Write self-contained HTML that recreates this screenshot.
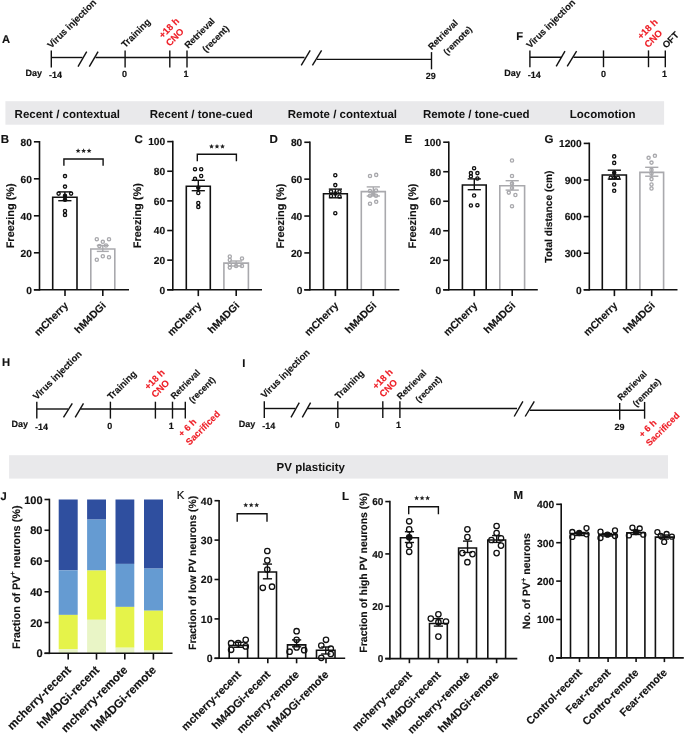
<!DOCTYPE html>
<html><head><meta charset="utf-8"><style>
html,body{margin:0;padding:0;background:#fff;overflow:hidden;width:685px;height:734px;}
svg{display:block;will-change:transform;font-family:"Liberation Sans", sans-serif;text-rendering:geometricPrecision;}
text{stroke:currentColor;stroke-width:0.15px;paint-order:stroke;}
text.h{stroke-width:0;}
</style></head><body>
<svg width="685" height="734" viewBox="0 0 685 734">
<rect width="685" height="734" fill="#fff"/>
<text x="2" y="42.6" font-size="11.2" font-weight="bold" text-anchor="start" fill="#111" color="#111">A</text>
<line x1="51.3" y1="57.5" x2="82.5" y2="57.5" stroke="#111" stroke-width="1.4" stroke-linecap="butt"/>
<line x1="95.5" y1="57.5" x2="304.5" y2="57.5" stroke="#111" stroke-width="1.4" stroke-linecap="butt"/>
<line x1="317" y1="59.4" x2="431.5" y2="59.4" stroke="#111" stroke-width="1.4" stroke-linecap="butt"/>
<line x1="78" y1="66.6" x2="86.7" y2="51.7" stroke="#111" stroke-width="1.4" stroke-linecap="butt"/>
<line x1="89.3" y1="66.6" x2="98.1" y2="51.7" stroke="#111" stroke-width="1.4" stroke-linecap="butt"/>
<line x1="301.2" y1="65.3" x2="310.2" y2="50.4" stroke="#111" stroke-width="1.4" stroke-linecap="butt"/>
<line x1="312.4" y1="65.3" x2="321.6" y2="50.4" stroke="#111" stroke-width="1.4" stroke-linecap="butt"/>
<line x1="51.3" y1="50.5" x2="51.3" y2="67.4" stroke="#111" stroke-width="1.4" stroke-linecap="butt"/>
<line x1="125.1" y1="50.5" x2="125.1" y2="67.4" stroke="#111" stroke-width="1.4" stroke-linecap="butt"/>
<line x1="169.8" y1="50.5" x2="169.8" y2="67.4" stroke="#111" stroke-width="1.4" stroke-linecap="butt"/>
<line x1="187" y1="50.5" x2="187" y2="67.4" stroke="#111" stroke-width="1.4" stroke-linecap="butt"/>
<line x1="431.5" y1="52.1" x2="431.5" y2="69.3" stroke="#111" stroke-width="1.4" stroke-linecap="butt"/>
<text x="25.6" y="76" font-size="9" font-weight="bold" text-anchor="start" fill="#111" color="#111">Day</text>
<text x="49" y="77.8" font-size="9" font-weight="bold" text-anchor="start" fill="#111" color="#111">-14</text>
<text x="124.4" y="77" font-size="9" font-weight="bold" text-anchor="middle" fill="#111" color="#111">0</text>
<text x="186" y="77" font-size="9" font-weight="bold" text-anchor="middle" fill="#111" color="#111">1</text>
<text x="430.8" y="78.8" font-size="9" font-weight="bold" text-anchor="middle" fill="#111" color="#111">29</text>
<text x="51.3" y="48.8" font-size="9.4" font-weight="bold" text-anchor="start" fill="#111" color="#111" transform="rotate(-45 51.3 48.8)">Virus injection</text>
<text x="125.2" y="48.3" font-size="9.4" font-weight="bold" text-anchor="start" fill="#111" color="#111" transform="rotate(-45 125.2 48.3)">Training</text>
<text x="162.7" y="38.8" font-size="9.4" font-weight="bold" text-anchor="start" fill="#ee1c24" color="#ee1c24" transform="rotate(-45 162.7 38.8)">+18 h</text>
<text x="169.7" y="46.8" font-size="9.4" font-weight="bold" text-anchor="start" fill="#ee1c24" color="#ee1c24" transform="rotate(-45 169.7 46.8)">CNO</text>
<text x="188.2" y="48.8" font-size="9.1" font-weight="bold" text-anchor="start" fill="#111" color="#111" transform="rotate(-45 188.2 48.8)">Retrieval</text>
<text x="206" y="52.7" font-size="9.1" font-weight="bold" text-anchor="start" fill="#111" color="#111" transform="rotate(-45 206 52.7)">(recent)</text>
<text x="431.7" y="50.3" font-size="9" font-weight="bold" text-anchor="start" fill="#111" color="#111" transform="rotate(-45 431.7 50.3)">Retrieval</text>
<text x="447.1" y="55.4" font-size="9" font-weight="bold" text-anchor="start" fill="#111" color="#111" transform="rotate(-45 447.1 55.4)">(remote)</text>
<text x="516.2" y="40.3" font-size="11.2" font-weight="bold" text-anchor="start" fill="#111" color="#111">F</text>
<line x1="529.9" y1="57.2" x2="561.8" y2="57.2" stroke="#111" stroke-width="1.4" stroke-linecap="butt"/>
<line x1="573.5" y1="57.2" x2="665.3" y2="57.2" stroke="#111" stroke-width="1.4" stroke-linecap="butt"/>
<line x1="556.2" y1="66.4" x2="565" y2="51.1" stroke="#111" stroke-width="1.4" stroke-linecap="butt"/>
<line x1="567.2" y1="66.4" x2="576.6" y2="51.1" stroke="#111" stroke-width="1.4" stroke-linecap="butt"/>
<line x1="529.9" y1="50.4" x2="529.9" y2="67.2" stroke="#111" stroke-width="1.4" stroke-linecap="butt"/>
<line x1="603.5" y1="50.4" x2="603.5" y2="67.2" stroke="#111" stroke-width="1.4" stroke-linecap="butt"/>
<line x1="648.5" y1="50.4" x2="648.5" y2="67.2" stroke="#111" stroke-width="1.4" stroke-linecap="butt"/>
<line x1="665.3" y1="50.4" x2="665.3" y2="67.2" stroke="#111" stroke-width="1.4" stroke-linecap="butt"/>
<text x="504.2" y="75.6" font-size="9" font-weight="bold" text-anchor="start" fill="#111" color="#111">Day</text>
<text x="527.8" y="77.8" font-size="9" font-weight="bold" text-anchor="start" fill="#111" color="#111">-14</text>
<text x="603.4" y="76.9" font-size="9" font-weight="bold" text-anchor="middle" fill="#111" color="#111">0</text>
<text x="664.6" y="76.9" font-size="9" font-weight="bold" text-anchor="middle" fill="#111" color="#111">1</text>
<text x="530.2" y="48.8" font-size="9.4" font-weight="bold" text-anchor="start" fill="#111" color="#111" transform="rotate(-45 530.2 48.8)">Virus injection</text>
<text x="641.2" y="39.8" font-size="9.4" font-weight="bold" text-anchor="start" fill="#ee1c24" color="#ee1c24" transform="rotate(-45 641.2 39.8)">+18 h</text>
<text x="648.2" y="48.3" font-size="9.4" font-weight="bold" text-anchor="start" fill="#ee1c24" color="#ee1c24" transform="rotate(-45 648.2 48.3)">CNO</text>
<text x="666.2" y="48.8" font-size="9.4" font-weight="bold" text-anchor="start" fill="#111" color="#111" transform="rotate(-45 666.2 48.8)">OFT</text>
<rect x="5.4" y="101.2" width="658.7" height="23.5" fill="#e9e9eb" stroke="none" stroke-width="0"/>
<text x="14.6" y="118.2" font-size="11.5" font-weight="bold" text-anchor="start" fill="#111" color="#111" class="h">Recent / contextual</text>
<text x="149.8" y="118.2" font-size="11.5" font-weight="bold" text-anchor="start" fill="#111" color="#111" class="h">Recent / tone-cued</text>
<text x="287.8" y="118.2" font-size="11.5" font-weight="bold" text-anchor="start" fill="#111" color="#111" class="h">Remote / contextual</text>
<text x="422.9" y="118.2" font-size="11.5" font-weight="bold" text-anchor="start" fill="#111" color="#111" class="h">Remote / tone-cued</text>
<text x="569.7" y="118.2" font-size="11.5" font-weight="bold" text-anchor="start" fill="#111" color="#111" class="h">Locomotion</text>
<rect x="9.1" y="455.2" width="658.9" height="23.4" fill="#e9e9eb" stroke="none" stroke-width="0"/>
<text x="276.6" y="471.2" font-size="11.5" font-weight="bold" text-anchor="start" fill="#111" color="#111" class="h">PV plasticity</text>
<text x="0.8" y="142.9" font-size="11.5" font-weight="bold" text-anchor="start" fill="#111" color="#111">B</text>
<path d="M52.7 289.8 V197.2 H77 V289.8" fill="none" stroke="#111" stroke-width="1.6"/>
<path d="M90.8 289.8 V249 H114.8 V289.8" fill="none" stroke="#a9a9ad" stroke-width="1.6"/>
<line x1="39.5" y1="141" x2="39.5" y2="290.6" stroke="#111" stroke-width="1.6" stroke-linecap="butt"/>
<line x1="33.9" y1="289.8" x2="129" y2="289.8" stroke="#111" stroke-width="1.6" stroke-linecap="butt"/>
<line x1="33.9" y1="289.8" x2="39.5" y2="289.8" stroke="#111" stroke-width="1.6" stroke-linecap="butt"/>
<text x="31.9" y="293.62" font-size="10.2" font-weight="bold" text-anchor="end" fill="#111" color="#111">0</text>
<line x1="33.9" y1="252.8" x2="39.5" y2="252.8" stroke="#111" stroke-width="1.6" stroke-linecap="butt"/>
<text x="31.9" y="256.62" font-size="10.2" font-weight="bold" text-anchor="end" fill="#111" color="#111">20</text>
<line x1="33.9" y1="215.8" x2="39.5" y2="215.8" stroke="#111" stroke-width="1.6" stroke-linecap="butt"/>
<text x="31.9" y="219.62" font-size="10.2" font-weight="bold" text-anchor="end" fill="#111" color="#111">40</text>
<line x1="33.9" y1="178.8" x2="39.5" y2="178.8" stroke="#111" stroke-width="1.6" stroke-linecap="butt"/>
<text x="31.9" y="182.62" font-size="10.2" font-weight="bold" text-anchor="end" fill="#111" color="#111">60</text>
<line x1="33.9" y1="141.8" x2="39.5" y2="141.8" stroke="#111" stroke-width="1.6" stroke-linecap="butt"/>
<text x="31.9" y="145.62" font-size="10.2" font-weight="bold" text-anchor="end" fill="#111" color="#111">80</text>
<line x1="65" y1="289.8" x2="65" y2="296.1" stroke="#111" stroke-width="1.6" stroke-linecap="butt"/>
<line x1="102.8" y1="289.8" x2="102.8" y2="296.1" stroke="#111" stroke-width="1.6" stroke-linecap="butt"/>
<line x1="64.85" y1="191.9" x2="64.85" y2="200.7" stroke="#111" stroke-width="1.4" stroke-linecap="butt"/>
<line x1="58.25" y1="191.9" x2="71.45" y2="191.9" stroke="#111" stroke-width="1.4" stroke-linecap="butt"/>
<line x1="58.25" y1="200.7" x2="71.45" y2="200.7" stroke="#111" stroke-width="1.4" stroke-linecap="butt"/>
<circle cx="65" cy="176.1" r="1.6" fill="none" stroke="#111" stroke-width="1.35"/>
<circle cx="65" cy="186.6" r="1.6" fill="none" stroke="#111" stroke-width="1.35"/>
<circle cx="58.6" cy="193.6" r="1.6" fill="none" stroke="#111" stroke-width="1.35"/>
<circle cx="71.1" cy="193.6" r="1.6" fill="none" stroke="#111" stroke-width="1.35"/>
<circle cx="65" cy="195.8" r="1.6" fill="#111" stroke="#111" stroke-width="1.35"/>
<circle cx="65" cy="199.8" r="1.6" fill="#111" stroke="#111" stroke-width="1.35"/>
<circle cx="65" cy="211" r="1.6" fill="none" stroke="#111" stroke-width="1.35"/>
<circle cx="65" cy="214.9" r="1.6" fill="none" stroke="#111" stroke-width="1.35"/>
<line x1="102.8" y1="245.5" x2="102.8" y2="251.4" stroke="#a9a9ad" stroke-width="1.4" stroke-linecap="butt"/>
<line x1="96.8" y1="245.5" x2="108.8" y2="245.5" stroke="#a9a9ad" stroke-width="1.4" stroke-linecap="butt"/>
<line x1="96.8" y1="251.4" x2="108.8" y2="251.4" stroke="#a9a9ad" stroke-width="1.4" stroke-linecap="butt"/>
<circle cx="96.8" cy="239.2" r="1.6" fill="none" stroke="#a9a9ad" stroke-width="1.35"/>
<circle cx="109" cy="239.2" r="1.6" fill="none" stroke="#a9a9ad" stroke-width="1.35"/>
<circle cx="102.8" cy="241.8" r="1.6" fill="none" stroke="#a9a9ad" stroke-width="1.35"/>
<circle cx="99.4" cy="246.1" r="1.6" fill="none" stroke="#a9a9ad" stroke-width="1.35"/>
<circle cx="106" cy="245.5" r="1.6" fill="none" stroke="#a9a9ad" stroke-width="1.35"/>
<circle cx="102.8" cy="256.2" r="1.6" fill="none" stroke="#a9a9ad" stroke-width="1.35"/>
<circle cx="109" cy="257.3" r="1.6" fill="none" stroke="#a9a9ad" stroke-width="1.35"/>
<circle cx="96.8" cy="259.7" r="1.6" fill="none" stroke="#a9a9ad" stroke-width="1.35"/>
<text x="13.6" y="215.8" font-size="10.95" font-weight="bold" text-anchor="middle" fill="#111" color="#111" transform="rotate(-90 13.6 215.8)">Freezing (%)</text>
<text x="68.8" y="306.2" font-size="10.45" font-weight="bold" text-anchor="end" fill="#111" color="#111" transform="rotate(-45 68.8 306.2)">mCherry</text>
<text x="106.6" y="306.2" font-size="10.45" font-weight="bold" text-anchor="end" fill="#111" color="#111" transform="rotate(-45 106.6 306.2)">hM4DGi</text>
<polyline points="63.9,165.8 63.9,159 103.1,159 103.1,165.8" fill="none" stroke="#111" stroke-width="1.4" stroke-linejoin="miter"/>
<polygon points="78.1,148.3 78.79,149.95 80.57,150.1 79.21,151.26 79.63,153 78.1,152.07 76.57,153 76.99,151.26 75.63,150.1 77.41,149.95" fill="#222"/>
<polygon points="83.6,148.3 84.29,149.95 86.07,150.1 84.71,151.26 85.13,153 83.6,152.07 82.07,153 82.49,151.26 81.13,150.1 82.91,149.95" fill="#222"/>
<polygon points="89.1,148.3 89.79,149.95 91.57,150.1 90.21,151.26 90.63,153 89.1,152.07 87.57,153 87.99,151.26 86.63,150.1 88.41,149.95" fill="#222"/>
<text x="134.4" y="143.1" font-size="11.5" font-weight="bold" text-anchor="start" fill="#111" color="#111">C</text>
<path d="M186.3 289.8 V186.2 H210.3 V289.8" fill="none" stroke="#111" stroke-width="1.6"/>
<path d="M223.9 289.8 V263.1 H248.4 V289.8" fill="none" stroke="#a9a9ad" stroke-width="1.6"/>
<line x1="172.8" y1="140.8" x2="172.8" y2="290.6" stroke="#111" stroke-width="1.6" stroke-linecap="butt"/>
<line x1="167.2" y1="289.8" x2="262" y2="289.8" stroke="#111" stroke-width="1.6" stroke-linecap="butt"/>
<line x1="167.2" y1="289.8" x2="172.8" y2="289.8" stroke="#111" stroke-width="1.6" stroke-linecap="butt"/>
<text x="165.2" y="293.62" font-size="10.2" font-weight="bold" text-anchor="end" fill="#111" color="#111">0</text>
<line x1="167.2" y1="260.16" x2="172.8" y2="260.16" stroke="#111" stroke-width="1.6" stroke-linecap="butt"/>
<text x="165.2" y="263.99" font-size="10.2" font-weight="bold" text-anchor="end" fill="#111" color="#111">20</text>
<line x1="167.2" y1="230.52" x2="172.8" y2="230.52" stroke="#111" stroke-width="1.6" stroke-linecap="butt"/>
<text x="165.2" y="234.34" font-size="10.2" font-weight="bold" text-anchor="end" fill="#111" color="#111">40</text>
<line x1="167.2" y1="200.88" x2="172.8" y2="200.88" stroke="#111" stroke-width="1.6" stroke-linecap="butt"/>
<text x="165.2" y="204.7" font-size="10.2" font-weight="bold" text-anchor="end" fill="#111" color="#111">60</text>
<line x1="167.2" y1="171.24" x2="172.8" y2="171.24" stroke="#111" stroke-width="1.6" stroke-linecap="butt"/>
<text x="165.2" y="175.06" font-size="10.2" font-weight="bold" text-anchor="end" fill="#111" color="#111">80</text>
<line x1="167.2" y1="141.6" x2="172.8" y2="141.6" stroke="#111" stroke-width="1.6" stroke-linecap="butt"/>
<text x="165.2" y="145.43" font-size="10.2" font-weight="bold" text-anchor="end" fill="#111" color="#111">100</text>
<line x1="198.3" y1="289.8" x2="198.3" y2="296.1" stroke="#111" stroke-width="1.6" stroke-linecap="butt"/>
<line x1="236.2" y1="289.8" x2="236.2" y2="296.1" stroke="#111" stroke-width="1.6" stroke-linecap="butt"/>
<line x1="198.3" y1="180.3" x2="198.3" y2="190.7" stroke="#111" stroke-width="1.4" stroke-linecap="butt"/>
<line x1="191.7" y1="180.3" x2="204.9" y2="180.3" stroke="#111" stroke-width="1.4" stroke-linecap="butt"/>
<line x1="191.7" y1="190.7" x2="204.9" y2="190.7" stroke="#111" stroke-width="1.4" stroke-linecap="butt"/>
<circle cx="195" cy="169.2" r="1.6" fill="none" stroke="#111" stroke-width="1.35"/>
<circle cx="201.2" cy="169.2" r="1.6" fill="none" stroke="#111" stroke-width="1.35"/>
<circle cx="195" cy="178.9" r="1.6" fill="none" stroke="#111" stroke-width="1.35"/>
<circle cx="201.2" cy="176" r="1.6" fill="none" stroke="#111" stroke-width="1.35"/>
<circle cx="198.3" cy="187.8" r="1.6" fill="#111" stroke="#111" stroke-width="1.35"/>
<circle cx="198.3" cy="193" r="1.6" fill="none" stroke="#111" stroke-width="1.35"/>
<circle cx="198.3" cy="203" r="1.6" fill="none" stroke="#111" stroke-width="1.35"/>
<circle cx="198.3" cy="206.9" r="1.6" fill="none" stroke="#111" stroke-width="1.35"/>
<line x1="236.15" y1="261" x2="236.15" y2="266" stroke="#a9a9ad" stroke-width="1.4" stroke-linecap="butt"/>
<line x1="230.15" y1="261" x2="242.15" y2="261" stroke="#a9a9ad" stroke-width="1.4" stroke-linecap="butt"/>
<line x1="230.15" y1="266" x2="242.15" y2="266" stroke="#a9a9ad" stroke-width="1.4" stroke-linecap="butt"/>
<circle cx="229.8" cy="256.5" r="1.6" fill="none" stroke="#a9a9ad" stroke-width="1.35"/>
<circle cx="242" cy="258.4" r="1.6" fill="none" stroke="#a9a9ad" stroke-width="1.35"/>
<circle cx="229.8" cy="260" r="1.6" fill="none" stroke="#a9a9ad" stroke-width="1.35"/>
<circle cx="229.8" cy="264.4" r="1.6" fill="none" stroke="#a9a9ad" stroke-width="1.35"/>
<circle cx="236.1" cy="266" r="1.6" fill="none" stroke="#a9a9ad" stroke-width="1.35"/>
<circle cx="242" cy="266" r="1.6" fill="none" stroke="#a9a9ad" stroke-width="1.35"/>
<circle cx="229.8" cy="267.6" r="1.6" fill="none" stroke="#a9a9ad" stroke-width="1.35"/>
<text x="140.7" y="215.7" font-size="10.95" font-weight="bold" text-anchor="middle" fill="#111" color="#111" transform="rotate(-90 140.7 215.7)">Freezing (%)</text>
<text x="202.1" y="306.2" font-size="10.45" font-weight="bold" text-anchor="end" fill="#111" color="#111" transform="rotate(-45 202.1 306.2)">mCherry</text>
<text x="240" y="306.2" font-size="10.45" font-weight="bold" text-anchor="end" fill="#111" color="#111" transform="rotate(-45 240 306.2)">hM4DGi</text>
<polyline points="197.3,161.2 197.3,154.2 236.4,154.2 236.4,161.2" fill="none" stroke="#111" stroke-width="1.4" stroke-linejoin="miter"/>
<polygon points="211.5,143.9 212.19,145.55 213.97,145.7 212.61,146.86 213.03,148.6 211.5,147.67 209.97,148.6 210.39,146.86 209.03,145.7 210.81,145.55" fill="#222"/>
<polygon points="217,143.9 217.69,145.55 219.47,145.7 218.11,146.86 218.53,148.6 217,147.67 215.47,148.6 215.89,146.86 214.53,145.7 216.31,145.55" fill="#222"/>
<polygon points="222.5,143.9 223.19,145.55 224.97,145.7 223.61,146.86 224.03,148.6 222.5,147.67 220.97,148.6 221.39,146.86 220.03,145.7 221.81,145.55" fill="#222"/>
<text x="269.4" y="142.9" font-size="11.5" font-weight="bold" text-anchor="start" fill="#111" color="#111">D</text>
<path d="M323.5 289.8 V193.7 H347.3 V289.8" fill="none" stroke="#111" stroke-width="1.6"/>
<path d="M361.3 289.8 V191.6 H385.3 V289.8" fill="none" stroke="#a9a9ad" stroke-width="1.6"/>
<line x1="309.9" y1="141.48" x2="309.9" y2="290.6" stroke="#111" stroke-width="1.6" stroke-linecap="butt"/>
<line x1="304.3" y1="289.8" x2="399.3" y2="289.8" stroke="#111" stroke-width="1.6" stroke-linecap="butt"/>
<line x1="304.3" y1="289.8" x2="309.9" y2="289.8" stroke="#111" stroke-width="1.6" stroke-linecap="butt"/>
<text x="302.3" y="293.62" font-size="10.2" font-weight="bold" text-anchor="end" fill="#111" color="#111">0</text>
<line x1="304.3" y1="252.92" x2="309.9" y2="252.92" stroke="#111" stroke-width="1.6" stroke-linecap="butt"/>
<text x="302.3" y="256.75" font-size="10.2" font-weight="bold" text-anchor="end" fill="#111" color="#111">20</text>
<line x1="304.3" y1="216.04" x2="309.9" y2="216.04" stroke="#111" stroke-width="1.6" stroke-linecap="butt"/>
<text x="302.3" y="219.87" font-size="10.2" font-weight="bold" text-anchor="end" fill="#111" color="#111">40</text>
<line x1="304.3" y1="179.16" x2="309.9" y2="179.16" stroke="#111" stroke-width="1.6" stroke-linecap="butt"/>
<text x="302.3" y="182.99" font-size="10.2" font-weight="bold" text-anchor="end" fill="#111" color="#111">60</text>
<line x1="304.3" y1="142.28" x2="309.9" y2="142.28" stroke="#111" stroke-width="1.6" stroke-linecap="butt"/>
<text x="302.3" y="146.1" font-size="10.2" font-weight="bold" text-anchor="end" fill="#111" color="#111">80</text>
<line x1="335.4" y1="289.8" x2="335.4" y2="296.1" stroke="#111" stroke-width="1.6" stroke-linecap="butt"/>
<line x1="373.3" y1="289.8" x2="373.3" y2="296.1" stroke="#111" stroke-width="1.6" stroke-linecap="butt"/>
<line x1="335.4" y1="189.1" x2="335.4" y2="197.8" stroke="#111" stroke-width="1.4" stroke-linecap="butt"/>
<line x1="328.8" y1="189.1" x2="342" y2="189.1" stroke="#111" stroke-width="1.4" stroke-linecap="butt"/>
<line x1="328.8" y1="197.8" x2="342" y2="197.8" stroke="#111" stroke-width="1.4" stroke-linecap="butt"/>
<circle cx="335.3" cy="175.2" r="1.6" fill="none" stroke="#111" stroke-width="1.35"/>
<circle cx="335.3" cy="185.1" r="1.6" fill="none" stroke="#111" stroke-width="1.35"/>
<circle cx="331" cy="191.5" r="1.6" fill="none" stroke="#111" stroke-width="1.35"/>
<circle cx="339.5" cy="191.5" r="1.6" fill="none" stroke="#111" stroke-width="1.35"/>
<circle cx="335.3" cy="193.5" r="1.6" fill="#111" stroke="#111" stroke-width="1.35"/>
<circle cx="331" cy="196" r="1.6" fill="none" stroke="#111" stroke-width="1.35"/>
<circle cx="339.5" cy="196.5" r="1.6" fill="none" stroke="#111" stroke-width="1.35"/>
<circle cx="335.3" cy="213.2" r="1.6" fill="none" stroke="#111" stroke-width="1.35"/>
<line x1="373.3" y1="186.9" x2="373.3" y2="196" stroke="#a9a9ad" stroke-width="1.4" stroke-linecap="butt"/>
<line x1="366.7" y1="186.9" x2="379.9" y2="186.9" stroke="#a9a9ad" stroke-width="1.4" stroke-linecap="butt"/>
<line x1="366.7" y1="196" x2="379.9" y2="196" stroke="#a9a9ad" stroke-width="1.4" stroke-linecap="butt"/>
<circle cx="370" cy="176" r="1.6" fill="none" stroke="#a9a9ad" stroke-width="1.35"/>
<circle cx="376.2" cy="174.9" r="1.6" fill="none" stroke="#a9a9ad" stroke-width="1.35"/>
<circle cx="370" cy="191" r="1.6" fill="none" stroke="#a9a9ad" stroke-width="1.35"/>
<circle cx="376" cy="190.5" r="1.6" fill="none" stroke="#a9a9ad" stroke-width="1.35"/>
<circle cx="373.3" cy="193.5" r="1.6" fill="#a9a9ad" stroke="#a9a9ad" stroke-width="1.35"/>
<circle cx="370" cy="195.7" r="1.6" fill="none" stroke="#a9a9ad" stroke-width="1.35"/>
<circle cx="376" cy="195.7" r="1.6" fill="none" stroke="#a9a9ad" stroke-width="1.35"/>
<circle cx="370" cy="203.7" r="1.6" fill="none" stroke="#a9a9ad" stroke-width="1.35"/>
<circle cx="376.2" cy="201.8" r="1.6" fill="none" stroke="#a9a9ad" stroke-width="1.35"/>
<text x="283.6" y="216.04" font-size="10.95" font-weight="bold" text-anchor="middle" fill="#111" color="#111" transform="rotate(-90 283.6 216.04)">Freezing (%)</text>
<text x="339.2" y="306.2" font-size="10.45" font-weight="bold" text-anchor="end" fill="#111" color="#111" transform="rotate(-45 339.2 306.2)">mCherry</text>
<text x="377.1" y="306.2" font-size="10.45" font-weight="bold" text-anchor="end" fill="#111" color="#111" transform="rotate(-45 377.1 306.2)">hM4DGi</text>
<text x="404.4" y="142.9" font-size="11.5" font-weight="bold" text-anchor="start" fill="#111" color="#111">E</text>
<path d="M462.4 289.8 V185 H486.2 V289.8" fill="none" stroke="#111" stroke-width="1.6"/>
<path d="M499.8 289.8 V185.8 H524.6 V289.8" fill="none" stroke="#a9a9ad" stroke-width="1.6"/>
<line x1="448.8" y1="141.4" x2="448.8" y2="290.6" stroke="#111" stroke-width="1.6" stroke-linecap="butt"/>
<line x1="443.2" y1="289.8" x2="537.8" y2="289.8" stroke="#111" stroke-width="1.6" stroke-linecap="butt"/>
<line x1="443.2" y1="289.8" x2="448.8" y2="289.8" stroke="#111" stroke-width="1.6" stroke-linecap="butt"/>
<text x="441.2" y="293.62" font-size="10.2" font-weight="bold" text-anchor="end" fill="#111" color="#111">0</text>
<line x1="443.2" y1="260.28" x2="448.8" y2="260.28" stroke="#111" stroke-width="1.6" stroke-linecap="butt"/>
<text x="441.2" y="264.11" font-size="10.2" font-weight="bold" text-anchor="end" fill="#111" color="#111">20</text>
<line x1="443.2" y1="230.76" x2="448.8" y2="230.76" stroke="#111" stroke-width="1.6" stroke-linecap="butt"/>
<text x="441.2" y="234.59" font-size="10.2" font-weight="bold" text-anchor="end" fill="#111" color="#111">40</text>
<line x1="443.2" y1="201.24" x2="448.8" y2="201.24" stroke="#111" stroke-width="1.6" stroke-linecap="butt"/>
<text x="441.2" y="205.06" font-size="10.2" font-weight="bold" text-anchor="end" fill="#111" color="#111">60</text>
<line x1="443.2" y1="171.72" x2="448.8" y2="171.72" stroke="#111" stroke-width="1.6" stroke-linecap="butt"/>
<text x="441.2" y="175.55" font-size="10.2" font-weight="bold" text-anchor="end" fill="#111" color="#111">80</text>
<line x1="443.2" y1="142.2" x2="448.8" y2="142.2" stroke="#111" stroke-width="1.6" stroke-linecap="butt"/>
<text x="441.2" y="146.03" font-size="10.2" font-weight="bold" text-anchor="end" fill="#111" color="#111">100</text>
<line x1="474.3" y1="289.8" x2="474.3" y2="296.1" stroke="#111" stroke-width="1.6" stroke-linecap="butt"/>
<line x1="512.2" y1="289.8" x2="512.2" y2="296.1" stroke="#111" stroke-width="1.6" stroke-linecap="butt"/>
<line x1="474.3" y1="178.9" x2="474.3" y2="189.7" stroke="#111" stroke-width="1.4" stroke-linecap="butt"/>
<line x1="467.7" y1="178.9" x2="480.9" y2="178.9" stroke="#111" stroke-width="1.4" stroke-linecap="butt"/>
<line x1="467.7" y1="189.7" x2="480.9" y2="189.7" stroke="#111" stroke-width="1.4" stroke-linecap="butt"/>
<circle cx="474.1" cy="168.2" r="1.6" fill="none" stroke="#111" stroke-width="1.35"/>
<circle cx="470.9" cy="173.1" r="1.6" fill="none" stroke="#111" stroke-width="1.35"/>
<circle cx="477.4" cy="173.1" r="1.6" fill="none" stroke="#111" stroke-width="1.35"/>
<circle cx="470.9" cy="176.3" r="1.6" fill="none" stroke="#111" stroke-width="1.35"/>
<circle cx="477.4" cy="178.5" r="1.6" fill="none" stroke="#111" stroke-width="1.35"/>
<circle cx="474.1" cy="195.5" r="1.6" fill="none" stroke="#111" stroke-width="1.35"/>
<circle cx="470.9" cy="205.5" r="1.6" fill="none" stroke="#111" stroke-width="1.35"/>
<circle cx="477.4" cy="205.2" r="1.6" fill="none" stroke="#111" stroke-width="1.35"/>
<line x1="512.2" y1="180.7" x2="512.2" y2="190.1" stroke="#a9a9ad" stroke-width="1.4" stroke-linecap="butt"/>
<line x1="505.6" y1="180.7" x2="518.8" y2="180.7" stroke="#a9a9ad" stroke-width="1.4" stroke-linecap="butt"/>
<line x1="505.6" y1="190.1" x2="518.8" y2="190.1" stroke="#a9a9ad" stroke-width="1.4" stroke-linecap="butt"/>
<circle cx="512" cy="160.5" r="1.6" fill="none" stroke="#a9a9ad" stroke-width="1.35"/>
<circle cx="512" cy="176" r="1.6" fill="none" stroke="#a9a9ad" stroke-width="1.35"/>
<circle cx="512" cy="183.6" r="1.6" fill="none" stroke="#a9a9ad" stroke-width="1.35"/>
<circle cx="512" cy="188" r="1.6" fill="none" stroke="#a9a9ad" stroke-width="1.35"/>
<circle cx="508.8" cy="192.6" r="1.6" fill="none" stroke="#a9a9ad" stroke-width="1.35"/>
<circle cx="515.4" cy="195" r="1.6" fill="none" stroke="#a9a9ad" stroke-width="1.35"/>
<circle cx="512" cy="206.2" r="1.6" fill="none" stroke="#a9a9ad" stroke-width="1.35"/>
<text x="415.8" y="216" font-size="10.95" font-weight="bold" text-anchor="middle" fill="#111" color="#111" transform="rotate(-90 415.8 216)">Freezing (%)</text>
<text x="478.1" y="306.2" font-size="10.45" font-weight="bold" text-anchor="end" fill="#111" color="#111" transform="rotate(-45 478.1 306.2)">mCherry</text>
<text x="516" y="306.2" font-size="10.45" font-weight="bold" text-anchor="end" fill="#111" color="#111" transform="rotate(-45 516 306.2)">hM4DGi</text>
<text x="544.6" y="142.9" font-size="11.5" font-weight="bold" text-anchor="start" fill="#111" color="#111">G</text>
<path d="M602.3 289.8 V175 H626.4 V289.8" fill="none" stroke="#111" stroke-width="1.6"/>
<path d="M639.9 289.8 V172.4 H663.6 V289.8" fill="none" stroke="#a9a9ad" stroke-width="1.6"/>
<line x1="589.3" y1="142.6" x2="589.3" y2="290.6" stroke="#111" stroke-width="1.6" stroke-linecap="butt"/>
<line x1="583.7" y1="289.8" x2="677.5" y2="289.8" stroke="#111" stroke-width="1.6" stroke-linecap="butt"/>
<line x1="583.7" y1="289.8" x2="589.3" y2="289.8" stroke="#111" stroke-width="1.6" stroke-linecap="butt"/>
<text x="581.7" y="293.62" font-size="10.2" font-weight="bold" text-anchor="end" fill="#111" color="#111">0</text>
<line x1="583.7" y1="253.2" x2="589.3" y2="253.2" stroke="#111" stroke-width="1.6" stroke-linecap="butt"/>
<text x="581.7" y="257.03" font-size="10.2" font-weight="bold" text-anchor="end" fill="#111" color="#111">300</text>
<line x1="583.7" y1="216.6" x2="589.3" y2="216.6" stroke="#111" stroke-width="1.6" stroke-linecap="butt"/>
<text x="581.7" y="220.43" font-size="10.2" font-weight="bold" text-anchor="end" fill="#111" color="#111">600</text>
<line x1="583.7" y1="180" x2="589.3" y2="180" stroke="#111" stroke-width="1.6" stroke-linecap="butt"/>
<text x="581.7" y="183.82" font-size="10.2" font-weight="bold" text-anchor="end" fill="#111" color="#111">900</text>
<line x1="583.7" y1="143.4" x2="589.3" y2="143.4" stroke="#111" stroke-width="1.6" stroke-linecap="butt"/>
<text x="581.7" y="147.22" font-size="10.2" font-weight="bold" text-anchor="end" fill="#111" color="#111">1200</text>
<line x1="614.4" y1="289.8" x2="614.4" y2="296.1" stroke="#111" stroke-width="1.6" stroke-linecap="butt"/>
<line x1="651.7" y1="289.8" x2="651.7" y2="296.1" stroke="#111" stroke-width="1.6" stroke-linecap="butt"/>
<line x1="614.35" y1="170.2" x2="614.35" y2="179.1" stroke="#111" stroke-width="1.4" stroke-linecap="butt"/>
<line x1="607.75" y1="170.2" x2="620.95" y2="170.2" stroke="#111" stroke-width="1.4" stroke-linecap="butt"/>
<line x1="607.75" y1="179.1" x2="620.95" y2="179.1" stroke="#111" stroke-width="1.4" stroke-linecap="butt"/>
<circle cx="614.2" cy="156.4" r="1.6" fill="none" stroke="#111" stroke-width="1.35"/>
<circle cx="614.2" cy="162.9" r="1.6" fill="none" stroke="#111" stroke-width="1.35"/>
<circle cx="614.2" cy="172.8" r="1.6" fill="#111" stroke="#111" stroke-width="1.35"/>
<circle cx="610.7" cy="177.7" r="1.6" fill="none" stroke="#111" stroke-width="1.35"/>
<circle cx="618" cy="177.7" r="1.6" fill="none" stroke="#111" stroke-width="1.35"/>
<circle cx="614.2" cy="177.7" r="1.6" fill="none" stroke="#111" stroke-width="1.35"/>
<circle cx="614.2" cy="184.5" r="1.6" fill="none" stroke="#111" stroke-width="1.35"/>
<circle cx="614.2" cy="190.8" r="1.6" fill="none" stroke="#111" stroke-width="1.35"/>
<line x1="651.75" y1="167.3" x2="651.75" y2="176.2" stroke="#a9a9ad" stroke-width="1.4" stroke-linecap="butt"/>
<line x1="645.15" y1="167.3" x2="658.35" y2="167.3" stroke="#a9a9ad" stroke-width="1.4" stroke-linecap="butt"/>
<line x1="645.15" y1="176.2" x2="658.35" y2="176.2" stroke="#a9a9ad" stroke-width="1.4" stroke-linecap="butt"/>
<circle cx="648.6" cy="157.8" r="1.6" fill="none" stroke="#a9a9ad" stroke-width="1.35"/>
<circle cx="654.9" cy="155.8" r="1.6" fill="none" stroke="#a9a9ad" stroke-width="1.35"/>
<circle cx="651.5" cy="162.6" r="1.6" fill="none" stroke="#a9a9ad" stroke-width="1.35"/>
<circle cx="651.5" cy="169.9" r="1.6" fill="none" stroke="#a9a9ad" stroke-width="1.35"/>
<circle cx="651.5" cy="173.5" r="1.6" fill="none" stroke="#a9a9ad" stroke-width="1.35"/>
<circle cx="651.5" cy="179.1" r="1.6" fill="none" stroke="#a9a9ad" stroke-width="1.35"/>
<circle cx="651.5" cy="184.5" r="1.6" fill="none" stroke="#a9a9ad" stroke-width="1.35"/>
<circle cx="651.5" cy="188.5" r="1.6" fill="none" stroke="#a9a9ad" stroke-width="1.35"/>
<text x="552.2" y="216.6" font-size="10.2" font-weight="bold" text-anchor="middle" fill="#111" color="#111" transform="rotate(-90 552.2 216.6)">Total distance (cm)</text>
<text x="618.2" y="306.2" font-size="10.45" font-weight="bold" text-anchor="end" fill="#111" color="#111" transform="rotate(-45 618.2 306.2)">mCherry</text>
<text x="655.5" y="306.2" font-size="10.45" font-weight="bold" text-anchor="end" fill="#111" color="#111" transform="rotate(-45 655.5 306.2)">hM4DGi</text>
<text x="2" y="366" font-size="11.2" font-weight="bold" text-anchor="start" fill="#111" color="#111">H</text>
<line x1="36.8" y1="409" x2="68" y2="409" stroke="#111" stroke-width="1.4" stroke-linecap="butt"/>
<line x1="80.3" y1="409" x2="185.3" y2="409" stroke="#111" stroke-width="1.4" stroke-linecap="butt"/>
<line x1="63.5" y1="417.3" x2="72.3" y2="403.4" stroke="#111" stroke-width="1.4" stroke-linecap="butt"/>
<line x1="75.2" y1="417.3" x2="83.5" y2="403.4" stroke="#111" stroke-width="1.4" stroke-linecap="butt"/>
<line x1="36.8" y1="401.7" x2="36.8" y2="418.6" stroke="#111" stroke-width="1.4" stroke-linecap="butt"/>
<line x1="110.4" y1="401.7" x2="110.4" y2="418.6" stroke="#111" stroke-width="1.4" stroke-linecap="butt"/>
<line x1="155.4" y1="401.7" x2="155.4" y2="418.6" stroke="#111" stroke-width="1.4" stroke-linecap="butt"/>
<line x1="172.5" y1="401.7" x2="172.5" y2="418.6" stroke="#111" stroke-width="1.4" stroke-linecap="butt"/>
<line x1="185.3" y1="401.7" x2="185.3" y2="418.6" stroke="#111" stroke-width="1.4" stroke-linecap="butt"/>
<text x="11.4" y="427.4" font-size="9" font-weight="bold" text-anchor="start" fill="#111" color="#111">Day</text>
<text x="35" y="429.6" font-size="9" font-weight="bold" text-anchor="start" fill="#111" color="#111">-14</text>
<text x="109.8" y="429" font-size="9" font-weight="bold" text-anchor="middle" fill="#111" color="#111">0</text>
<text x="171.2" y="429" font-size="9" font-weight="bold" text-anchor="middle" fill="#111" color="#111">1</text>
<text x="36.7" y="400.3" font-size="9.4" font-weight="bold" text-anchor="start" fill="#111" color="#111" transform="rotate(-45 36.7 400.3)">Virus injection</text>
<text x="111.2" y="400.3" font-size="9.4" font-weight="bold" text-anchor="start" fill="#111" color="#111" transform="rotate(-45 111.2 400.3)">Training</text>
<text x="148.2" y="390.3" font-size="9.4" font-weight="bold" text-anchor="start" fill="#ee1c24" color="#ee1c24" transform="rotate(-45 148.2 390.3)">+18 h</text>
<text x="155.2" y="398.3" font-size="9.4" font-weight="bold" text-anchor="start" fill="#ee1c24" color="#ee1c24" transform="rotate(-45 155.2 398.3)">CNO</text>
<text x="174.2" y="399.7" font-size="8.9" font-weight="bold" text-anchor="start" fill="#111" color="#111" transform="rotate(-45 174.2 399.7)">Retrieval</text>
<text x="192.5" y="403.6" font-size="9" font-weight="bold" text-anchor="start" fill="#111" color="#111" transform="rotate(-45 192.5 403.6)">(recent)</text>
<text x="182.1" y="437.2" font-size="9.1" font-weight="bold" text-anchor="start" fill="#ee1c24" color="#ee1c24" transform="rotate(-45 182.1 437.2)">+ 6 h</text>
<text x="189.6" y="445.7" font-size="9.2" font-weight="bold" text-anchor="start" fill="#ee1c24" color="#ee1c24" transform="rotate(-45 189.6 445.7)">Sacrificed</text>
<text x="242.2" y="367.4" font-size="11.2" font-weight="bold" text-anchor="start" fill="#111" color="#111">I</text>
<line x1="264.3" y1="408.5" x2="295.3" y2="408.5" stroke="#111" stroke-width="1.4" stroke-linecap="butt"/>
<line x1="307.4" y1="408.5" x2="517" y2="408.5" stroke="#111" stroke-width="1.4" stroke-linecap="butt"/>
<line x1="529.7" y1="410.3" x2="644.6" y2="410.3" stroke="#111" stroke-width="1.4" stroke-linecap="butt"/>
<line x1="291" y1="417.3" x2="299.3" y2="402.7" stroke="#111" stroke-width="1.4" stroke-linecap="butt"/>
<line x1="302.3" y1="417.3" x2="310.6" y2="402.7" stroke="#111" stroke-width="1.4" stroke-linecap="butt"/>
<line x1="514.2" y1="416.5" x2="522.9" y2="401.4" stroke="#111" stroke-width="1.4" stroke-linecap="butt"/>
<line x1="525.2" y1="416.5" x2="534.3" y2="401.4" stroke="#111" stroke-width="1.4" stroke-linecap="butt"/>
<line x1="264.3" y1="401.2" x2="264.3" y2="418" stroke="#111" stroke-width="1.4" stroke-linecap="butt"/>
<line x1="337.8" y1="401.2" x2="337.8" y2="418" stroke="#111" stroke-width="1.4" stroke-linecap="butt"/>
<line x1="382.8" y1="401.2" x2="382.8" y2="418" stroke="#111" stroke-width="1.4" stroke-linecap="butt"/>
<line x1="399.9" y1="401.2" x2="399.9" y2="418" stroke="#111" stroke-width="1.4" stroke-linecap="butt"/>
<line x1="619.7" y1="403.1" x2="619.7" y2="419.7" stroke="#111" stroke-width="1.4" stroke-linecap="butt"/>
<line x1="644.6" y1="401.9" x2="644.6" y2="418.7" stroke="#111" stroke-width="1.4" stroke-linecap="butt"/>
<text x="238.8" y="426.8" font-size="9" font-weight="bold" text-anchor="start" fill="#111" color="#111">Day</text>
<text x="262.2" y="429" font-size="9" font-weight="bold" text-anchor="start" fill="#111" color="#111">-14</text>
<text x="337.2" y="428.2" font-size="9" font-weight="bold" text-anchor="middle" fill="#111" color="#111">0</text>
<text x="398.6" y="428.2" font-size="9" font-weight="bold" text-anchor="middle" fill="#111" color="#111">1</text>
<text x="619.5" y="430" font-size="9" font-weight="bold" text-anchor="middle" fill="#111" color="#111">29</text>
<text x="264.7" y="398.8" font-size="9.4" font-weight="bold" text-anchor="start" fill="#111" color="#111" transform="rotate(-45 264.7 398.8)">Virus injection</text>
<text x="338.7" y="399.8" font-size="9.4" font-weight="bold" text-anchor="start" fill="#111" color="#111" transform="rotate(-45 338.7 399.8)">Training</text>
<text x="376.2" y="389.8" font-size="9.4" font-weight="bold" text-anchor="start" fill="#ee1c24" color="#ee1c24" transform="rotate(-45 376.2 389.8)">+18 h</text>
<text x="383.2" y="397.8" font-size="9.4" font-weight="bold" text-anchor="start" fill="#ee1c24" color="#ee1c24" transform="rotate(-45 383.2 397.8)">CNO</text>
<text x="400.6" y="400" font-size="8.9" font-weight="bold" text-anchor="start" fill="#111" color="#111" transform="rotate(-45 400.6 400)">Retrieval</text>
<text x="419.1" y="403" font-size="8.9" font-weight="bold" text-anchor="start" fill="#111" color="#111" transform="rotate(-45 419.1 403)">(recent)</text>
<text x="620.9" y="401.1" font-size="8.9" font-weight="bold" text-anchor="start" fill="#111" color="#111" transform="rotate(-45 620.9 401.1)">Retrieval</text>
<text x="636.2" y="407.3" font-size="8.9" font-weight="bold" text-anchor="start" fill="#111" color="#111" transform="rotate(-45 636.2 407.3)">(remote)</text>
<text x="642.4" y="438.1" font-size="9" font-weight="bold" text-anchor="start" fill="#ee1c24" color="#ee1c24" transform="rotate(-45 642.4 438.1)">+ 6 h</text>
<text x="649.6" y="446.6" font-size="9" font-weight="bold" text-anchor="start" fill="#ee1c24" color="#ee1c24" transform="rotate(-45 649.6 446.6)">Sacrificed</text>
<text x="0.6" y="499.7" font-size="11.2" font-weight="bold" text-anchor="start" fill="#111" color="#111">J</text>
<rect x="58.7" y="499.5" width="19" height="70.8" fill="#2f4f9f" stroke="none" stroke-width="0"/>
<rect x="58.7" y="570.3" width="19" height="44.6" fill="#659bd2" stroke="none" stroke-width="0"/>
<rect x="58.7" y="614.9" width="19" height="34.2" fill="#e5f34a" stroke="none" stroke-width="0"/>
<rect x="58.7" y="649.1" width="19" height="4.2" fill="#e9f5c6" stroke="none" stroke-width="0"/>
<rect x="87.1" y="499.5" width="18.9" height="20.1" fill="#2f4f9f" stroke="none" stroke-width="0"/>
<rect x="87.1" y="519.6" width="18.9" height="50.9" fill="#659bd2" stroke="none" stroke-width="0"/>
<rect x="87.1" y="570.5" width="18.9" height="49.3" fill="#e5f34a" stroke="none" stroke-width="0"/>
<rect x="87.1" y="619.8" width="18.9" height="33.5" fill="#e9f5c6" stroke="none" stroke-width="0"/>
<rect x="115.5" y="499.5" width="18.8" height="64.4" fill="#2f4f9f" stroke="none" stroke-width="0"/>
<rect x="115.5" y="563.9" width="18.8" height="43" fill="#659bd2" stroke="none" stroke-width="0"/>
<rect x="115.5" y="606.9" width="18.8" height="40.8" fill="#e5f34a" stroke="none" stroke-width="0"/>
<rect x="115.5" y="647.7" width="18.8" height="5.6" fill="#e9f5c6" stroke="none" stroke-width="0"/>
<rect x="144" y="499.5" width="19" height="69.1" fill="#2f4f9f" stroke="none" stroke-width="0"/>
<rect x="144" y="568.6" width="19" height="42.1" fill="#659bd2" stroke="none" stroke-width="0"/>
<rect x="144" y="610.7" width="19" height="39.9" fill="#e5f34a" stroke="none" stroke-width="0"/>
<rect x="144" y="650.6" width="19" height="2.7" fill="#e9f5c6" stroke="none" stroke-width="0"/>
<line x1="49.4" y1="498.7" x2="49.4" y2="654.1" stroke="#111" stroke-width="1.6" stroke-linecap="butt"/>
<line x1="44.5" y1="653.3" x2="172.5" y2="653.3" stroke="#111" stroke-width="1.6" stroke-linecap="butt"/>
<line x1="44.5" y1="653.3" x2="49.4" y2="653.3" stroke="#111" stroke-width="1.6" stroke-linecap="butt"/>
<text x="42.5" y="657.42" font-size="11" font-weight="bold" text-anchor="end" fill="#111" color="#111">0</text>
<line x1="44.5" y1="622.54" x2="49.4" y2="622.54" stroke="#111" stroke-width="1.6" stroke-linecap="butt"/>
<text x="42.5" y="626.66" font-size="11" font-weight="bold" text-anchor="end" fill="#111" color="#111">20</text>
<line x1="44.5" y1="591.78" x2="49.4" y2="591.78" stroke="#111" stroke-width="1.6" stroke-linecap="butt"/>
<text x="42.5" y="595.9" font-size="11" font-weight="bold" text-anchor="end" fill="#111" color="#111">40</text>
<line x1="44.5" y1="561.02" x2="49.4" y2="561.02" stroke="#111" stroke-width="1.6" stroke-linecap="butt"/>
<text x="42.5" y="565.14" font-size="11" font-weight="bold" text-anchor="end" fill="#111" color="#111">60</text>
<line x1="44.5" y1="530.26" x2="49.4" y2="530.26" stroke="#111" stroke-width="1.6" stroke-linecap="butt"/>
<text x="42.5" y="534.38" font-size="11" font-weight="bold" text-anchor="end" fill="#111" color="#111">80</text>
<line x1="44.5" y1="499.5" x2="49.4" y2="499.5" stroke="#111" stroke-width="1.6" stroke-linecap="butt"/>
<text x="42.5" y="503.62" font-size="11" font-weight="bold" text-anchor="end" fill="#111" color="#111">100</text>
<line x1="68.2" y1="653.3" x2="68.2" y2="659.6" stroke="#111" stroke-width="1.6" stroke-linecap="butt"/>
<line x1="96.5" y1="653.3" x2="96.5" y2="659.6" stroke="#111" stroke-width="1.6" stroke-linecap="butt"/>
<line x1="124.8" y1="653.3" x2="124.8" y2="659.6" stroke="#111" stroke-width="1.6" stroke-linecap="butt"/>
<line x1="153.4" y1="653.3" x2="153.4" y2="659.6" stroke="#111" stroke-width="1.6" stroke-linecap="butt"/>
<text x="71.7" y="670.7" font-size="11.6" font-weight="bold" text-anchor="end" fill="#111" color="#111" transform="rotate(-45 71.7 670.7)">mcherry-recent</text>
<text x="100" y="670.7" font-size="11.6" font-weight="bold" text-anchor="end" fill="#111" color="#111" transform="rotate(-45 100 670.7)">hM4DGi-recent</text>
<text x="128.3" y="670.7" font-size="11.6" font-weight="bold" text-anchor="end" fill="#111" color="#111" transform="rotate(-45 128.3 670.7)">mcherry-remote</text>
<text x="156.9" y="670.7" font-size="11.6" font-weight="bold" text-anchor="end" fill="#111" color="#111" transform="rotate(-45 156.9 670.7)">hM4DGi-remote</text>
<text x="20.4" y="577.2" font-size="10.85" font-weight="bold" text-anchor="middle" fill="#111" color="#111" transform="rotate(-90 20.4 577.2)">Fraction of PV<tspan font-size="7.3" dy="-5">+</tspan><tspan dy="5"> neurons (%)</tspan></text>
<text x="176.8" y="499.3" font-size="11.5" font-weight="normal" text-anchor="start" fill="#111" color="#111">K</text>
<path d="M229.2 658.3 V645.5 H247.6 V658.3" fill="none" stroke="#111" stroke-width="1.6"/>
<path d="M258.4 658.3 V572 H276.5 V658.3" fill="none" stroke="#111" stroke-width="1.6"/>
<path d="M287.5 658.3 V644.9 H305.7 V658.3" fill="none" stroke="#111" stroke-width="1.6"/>
<path d="M316.5 658.3 V650.2 H335 V658.3" fill="none" stroke="#111" stroke-width="1.6"/>
<line x1="219.1" y1="499.9" x2="219.1" y2="659.1" stroke="#111" stroke-width="1.6" stroke-linecap="butt"/>
<line x1="214.5" y1="658.3" x2="345.2" y2="658.3" stroke="#111" stroke-width="1.6" stroke-linecap="butt"/>
<line x1="214.5" y1="658.3" x2="219.1" y2="658.3" stroke="#111" stroke-width="1.6" stroke-linecap="butt"/>
<text x="212.5" y="662.24" font-size="10.5" font-weight="bold" text-anchor="end" fill="#111" color="#111">0</text>
<line x1="214.5" y1="618.9" x2="219.1" y2="618.9" stroke="#111" stroke-width="1.6" stroke-linecap="butt"/>
<text x="212.5" y="622.84" font-size="10.5" font-weight="bold" text-anchor="end" fill="#111" color="#111">10</text>
<line x1="214.5" y1="579.5" x2="219.1" y2="579.5" stroke="#111" stroke-width="1.6" stroke-linecap="butt"/>
<text x="212.5" y="583.44" font-size="10.5" font-weight="bold" text-anchor="end" fill="#111" color="#111">20</text>
<line x1="214.5" y1="540.1" x2="219.1" y2="540.1" stroke="#111" stroke-width="1.6" stroke-linecap="butt"/>
<text x="212.5" y="544.04" font-size="10.5" font-weight="bold" text-anchor="end" fill="#111" color="#111">30</text>
<line x1="214.5" y1="500.7" x2="219.1" y2="500.7" stroke="#111" stroke-width="1.6" stroke-linecap="butt"/>
<text x="212.5" y="504.64" font-size="10.5" font-weight="bold" text-anchor="end" fill="#111" color="#111">40</text>
<line x1="238.7" y1="658.3" x2="238.7" y2="663.3" stroke="#111" stroke-width="1.6" stroke-linecap="butt"/>
<line x1="267.8" y1="658.3" x2="267.8" y2="663.3" stroke="#111" stroke-width="1.6" stroke-linecap="butt"/>
<line x1="296.6" y1="658.3" x2="296.6" y2="663.3" stroke="#111" stroke-width="1.6" stroke-linecap="butt"/>
<line x1="326" y1="658.3" x2="326" y2="663.3" stroke="#111" stroke-width="1.6" stroke-linecap="butt"/>
<line x1="238.4" y1="642.3" x2="238.4" y2="647.3" stroke="#111" stroke-width="1.4" stroke-linecap="butt"/>
<line x1="233.4" y1="642.3" x2="243.4" y2="642.3" stroke="#111" stroke-width="1.4" stroke-linecap="butt"/>
<line x1="233.4" y1="647.3" x2="243.4" y2="647.3" stroke="#111" stroke-width="1.4" stroke-linecap="butt"/>
<circle cx="231.1" cy="643.2" r="2.7" fill="none" stroke="#111" stroke-width="1.3"/>
<circle cx="238.2" cy="643.2" r="2.7" fill="none" stroke="#111" stroke-width="1.3"/>
<circle cx="245.7" cy="639.8" r="2.7" fill="none" stroke="#111" stroke-width="1.3"/>
<circle cx="245.7" cy="646.4" r="2.7" fill="none" stroke="#111" stroke-width="1.3"/>
<circle cx="231.1" cy="649.8" r="2.7" fill="none" stroke="#111" stroke-width="1.3"/>
<line x1="267.45" y1="564.1" x2="267.45" y2="578.8" stroke="#111" stroke-width="1.4" stroke-linecap="butt"/>
<line x1="262.85" y1="564.1" x2="272.05" y2="564.1" stroke="#111" stroke-width="1.4" stroke-linecap="butt"/>
<line x1="262.85" y1="578.8" x2="272.05" y2="578.8" stroke="#111" stroke-width="1.4" stroke-linecap="butt"/>
<circle cx="267.3" cy="551" r="2.7" fill="none" stroke="#111" stroke-width="1.3"/>
<circle cx="267.3" cy="560.4" r="2.7" fill="none" stroke="#111" stroke-width="1.3"/>
<circle cx="267.3" cy="569.6" r="2.7" fill="none" stroke="#111" stroke-width="1.3"/>
<circle cx="262.8" cy="587.8" r="2.7" fill="none" stroke="#111" stroke-width="1.3"/>
<circle cx="272" cy="586.7" r="2.7" fill="none" stroke="#111" stroke-width="1.3"/>
<line x1="296.6" y1="639.9" x2="296.6" y2="646.8" stroke="#111" stroke-width="1.4" stroke-linecap="butt"/>
<line x1="292" y1="639.9" x2="301.2" y2="639.9" stroke="#111" stroke-width="1.4" stroke-linecap="butt"/>
<line x1="292" y1="646.8" x2="301.2" y2="646.8" stroke="#111" stroke-width="1.4" stroke-linecap="butt"/>
<circle cx="296.6" cy="631.2" r="2.7" fill="none" stroke="#111" stroke-width="1.3"/>
<circle cx="296.6" cy="639.8" r="2.7" fill="none" stroke="#111" stroke-width="1.3"/>
<circle cx="296.6" cy="647.4" r="2.7" fill="none" stroke="#111" stroke-width="1.3"/>
<circle cx="289.6" cy="651.7" r="2.7" fill="none" stroke="#111" stroke-width="1.3"/>
<circle cx="304.2" cy="650.2" r="2.7" fill="none" stroke="#111" stroke-width="1.3"/>
<line x1="325.75" y1="647" x2="325.75" y2="654" stroke="#111" stroke-width="1.4" stroke-linecap="butt"/>
<line x1="321.15" y1="647" x2="330.35" y2="647" stroke="#111" stroke-width="1.4" stroke-linecap="butt"/>
<line x1="321.15" y1="654" x2="330.35" y2="654" stroke="#111" stroke-width="1.4" stroke-linecap="butt"/>
<circle cx="326" cy="639.8" r="2.7" fill="none" stroke="#111" stroke-width="1.3"/>
<circle cx="321.3" cy="645.5" r="2.7" fill="none" stroke="#111" stroke-width="1.3"/>
<circle cx="330.8" cy="648.7" r="2.7" fill="none" stroke="#111" stroke-width="1.3"/>
<circle cx="330.8" cy="654" r="2.7" fill="none" stroke="#111" stroke-width="1.3"/>
<circle cx="321.3" cy="657.8" r="2.7" fill="none" stroke="#111" stroke-width="1.3"/>
<text x="195.6" y="572.8" font-size="10.45" font-weight="bold" text-anchor="middle" fill="#111" color="#111" transform="rotate(-90 195.6 572.8)">Fraction of low PV neurons (%)</text>
<text x="241.9" y="675.1" font-size="10.9" font-weight="bold" text-anchor="end" fill="#111" color="#111" transform="rotate(-45 241.9 675.1)">mcherry-recent</text>
<text x="271" y="675.1" font-size="10.9" font-weight="bold" text-anchor="end" fill="#111" color="#111" transform="rotate(-45 271 675.1)">hM4DGi-recent</text>
<text x="299.8" y="675.1" font-size="10.9" font-weight="bold" text-anchor="end" fill="#111" color="#111" transform="rotate(-45 299.8 675.1)">mcherry-remote</text>
<text x="329.2" y="675.1" font-size="10.9" font-weight="bold" text-anchor="end" fill="#111" color="#111" transform="rotate(-45 329.2 675.1)">hM4DGi-remote</text>
<polyline points="237.2,521.7 237.2,513.8 267,513.8 267,521.7" fill="none" stroke="#111" stroke-width="1.4" stroke-linejoin="miter"/>
<polygon points="245.7,502.5 246.39,504.15 248.17,504.3 246.81,505.46 247.23,507.2 245.7,506.27 244.17,507.2 244.59,505.46 243.23,504.3 245.01,504.15" fill="#222"/>
<polygon points="251.2,502.5 251.89,504.15 253.67,504.3 252.31,505.46 252.73,507.2 251.2,506.27 249.67,507.2 250.09,505.46 248.73,504.3 250.51,504.15" fill="#222"/>
<polygon points="256.7,502.5 257.39,504.15 259.17,504.3 257.81,505.46 258.23,507.2 256.7,506.27 255.17,507.2 255.59,505.46 254.23,504.3 256.01,504.15" fill="#222"/>
<text x="342" y="499.6" font-size="11.5" font-weight="bold" text-anchor="start" fill="#111" color="#111">L</text>
<path d="M400.5 658.6 V537.8 H418.4 V658.6" fill="none" stroke="#111" stroke-width="1.6"/>
<path d="M429.5 658.6 V623.5 H447.3 V658.6" fill="none" stroke="#111" stroke-width="1.6"/>
<path d="M458.6 658.6 V548 H476.5 V658.6" fill="none" stroke="#111" stroke-width="1.6"/>
<path d="M487.8 658.6 V540 H505.6 V658.6" fill="none" stroke="#111" stroke-width="1.6"/>
<line x1="389.9" y1="500.78" x2="389.9" y2="659.4" stroke="#111" stroke-width="1.6" stroke-linecap="butt"/>
<line x1="385.3" y1="658.6" x2="517.3" y2="658.6" stroke="#111" stroke-width="1.6" stroke-linecap="butt"/>
<line x1="385.3" y1="658.6" x2="389.9" y2="658.6" stroke="#111" stroke-width="1.6" stroke-linecap="butt"/>
<text x="383.3" y="662.35" font-size="10" font-weight="bold" text-anchor="end" fill="#111" color="#111">0</text>
<line x1="385.3" y1="606.26" x2="389.9" y2="606.26" stroke="#111" stroke-width="1.6" stroke-linecap="butt"/>
<text x="383.3" y="610.01" font-size="10" font-weight="bold" text-anchor="end" fill="#111" color="#111">20</text>
<line x1="385.3" y1="553.92" x2="389.9" y2="553.92" stroke="#111" stroke-width="1.6" stroke-linecap="butt"/>
<text x="383.3" y="557.67" font-size="10" font-weight="bold" text-anchor="end" fill="#111" color="#111">40</text>
<line x1="385.3" y1="501.58" x2="389.9" y2="501.58" stroke="#111" stroke-width="1.6" stroke-linecap="butt"/>
<text x="383.3" y="505.33" font-size="10" font-weight="bold" text-anchor="end" fill="#111" color="#111">60</text>
<line x1="409.4" y1="658.6" x2="409.4" y2="663.2" stroke="#111" stroke-width="1.6" stroke-linecap="butt"/>
<line x1="438.4" y1="658.6" x2="438.4" y2="663.2" stroke="#111" stroke-width="1.6" stroke-linecap="butt"/>
<line x1="467.4" y1="658.6" x2="467.4" y2="663.2" stroke="#111" stroke-width="1.6" stroke-linecap="butt"/>
<line x1="496.6" y1="658.6" x2="496.6" y2="663.2" stroke="#111" stroke-width="1.6" stroke-linecap="butt"/>
<line x1="409.45" y1="531.7" x2="409.45" y2="542.5" stroke="#111" stroke-width="1.4" stroke-linecap="butt"/>
<line x1="404.85" y1="531.7" x2="414.05" y2="531.7" stroke="#111" stroke-width="1.4" stroke-linecap="butt"/>
<line x1="404.85" y1="542.5" x2="414.05" y2="542.5" stroke="#111" stroke-width="1.4" stroke-linecap="butt"/>
<circle cx="409.2" cy="521.3" r="2.7" fill="none" stroke="#111" stroke-width="1.3"/>
<circle cx="409.2" cy="529.4" r="2.7" fill="none" stroke="#111" stroke-width="1.3"/>
<circle cx="409.2" cy="537.3" r="2.7" fill="#111" stroke="#111" stroke-width="1.3"/>
<circle cx="409.2" cy="545.2" r="2.7" fill="none" stroke="#111" stroke-width="1.3"/>
<circle cx="409.2" cy="551.8" r="2.7" fill="none" stroke="#111" stroke-width="1.3"/>
<line x1="438.4" y1="618.6" x2="438.4" y2="626.1" stroke="#111" stroke-width="1.4" stroke-linecap="butt"/>
<line x1="433.8" y1="618.6" x2="443" y2="618.6" stroke="#111" stroke-width="1.4" stroke-linecap="butt"/>
<line x1="433.8" y1="626.1" x2="443" y2="626.1" stroke="#111" stroke-width="1.4" stroke-linecap="butt"/>
<circle cx="438.4" cy="614.3" r="2.7" fill="none" stroke="#111" stroke-width="1.3"/>
<circle cx="430.8" cy="618.6" r="2.7" fill="none" stroke="#111" stroke-width="1.3"/>
<circle cx="438.4" cy="622.2" r="2.7" fill="none" stroke="#111" stroke-width="1.3"/>
<circle cx="446" cy="621.5" r="2.7" fill="none" stroke="#111" stroke-width="1.3"/>
<circle cx="438.4" cy="636.6" r="2.7" fill="none" stroke="#111" stroke-width="1.3"/>
<line x1="467.55" y1="541.1" x2="467.55" y2="552.5" stroke="#111" stroke-width="1.4" stroke-linecap="butt"/>
<line x1="462.95" y1="541.1" x2="472.15" y2="541.1" stroke="#111" stroke-width="1.4" stroke-linecap="butt"/>
<line x1="462.95" y1="552.5" x2="472.15" y2="552.5" stroke="#111" stroke-width="1.4" stroke-linecap="butt"/>
<circle cx="467.4" cy="529.3" r="2.7" fill="none" stroke="#111" stroke-width="1.3"/>
<circle cx="467.4" cy="537.1" r="2.7" fill="none" stroke="#111" stroke-width="1.3"/>
<circle cx="462.4" cy="553.1" r="2.7" fill="none" stroke="#111" stroke-width="1.3"/>
<circle cx="472.5" cy="554.1" r="2.7" fill="none" stroke="#111" stroke-width="1.3"/>
<circle cx="467.4" cy="562.2" r="2.7" fill="none" stroke="#111" stroke-width="1.3"/>
<line x1="496.7" y1="535.6" x2="496.7" y2="542.4" stroke="#111" stroke-width="1.4" stroke-linecap="butt"/>
<line x1="492.1" y1="535.6" x2="501.3" y2="535.6" stroke="#111" stroke-width="1.4" stroke-linecap="butt"/>
<line x1="492.1" y1="542.4" x2="501.3" y2="542.4" stroke="#111" stroke-width="1.4" stroke-linecap="butt"/>
<circle cx="496.6" cy="526" r="2.7" fill="none" stroke="#111" stroke-width="1.3"/>
<circle cx="496.6" cy="533" r="2.7" fill="none" stroke="#111" stroke-width="1.3"/>
<circle cx="491.4" cy="540" r="2.7" fill="none" stroke="#111" stroke-width="1.3"/>
<circle cx="501" cy="538.3" r="2.7" fill="none" stroke="#111" stroke-width="1.3"/>
<circle cx="501" cy="545.6" r="2.7" fill="none" stroke="#111" stroke-width="1.3"/>
<circle cx="496.6" cy="553.1" r="2.7" fill="none" stroke="#111" stroke-width="1.3"/>
<text x="367.2" y="572.7" font-size="10.5" font-weight="bold" text-anchor="middle" fill="#111" color="#111" transform="rotate(-90 367.2 572.7)">Fraction of high PV neurons (%)</text>
<text x="412.6" y="675.6" font-size="10.9" font-weight="bold" text-anchor="end" fill="#111" color="#111" transform="rotate(-45 412.6 675.6)">mcherry-recent</text>
<text x="441.6" y="675.6" font-size="10.9" font-weight="bold" text-anchor="end" fill="#111" color="#111" transform="rotate(-45 441.6 675.6)">hM4DGi-recent</text>
<text x="470.6" y="675.6" font-size="10.9" font-weight="bold" text-anchor="end" fill="#111" color="#111" transform="rotate(-45 470.6 675.6)">mcherry-remote</text>
<text x="499.8" y="675.6" font-size="10.9" font-weight="bold" text-anchor="end" fill="#111" color="#111" transform="rotate(-45 499.8 675.6)">hM4DGi-remote</text>
<polyline points="408.7,514.3 408.7,506.7 438.4,506.7 438.4,514.3" fill="none" stroke="#111" stroke-width="1.4" stroke-linejoin="miter"/>
<polygon points="416.6,495.6 417.29,497.25 419.07,497.4 417.71,498.56 418.13,500.3 416.6,499.37 415.07,500.3 415.49,498.56 414.13,497.4 415.91,497.25" fill="#222"/>
<polygon points="422.1,495.6 422.79,497.25 424.57,497.4 423.21,498.56 423.63,500.3 422.1,499.37 420.57,500.3 420.99,498.56 419.63,497.4 421.41,497.25" fill="#222"/>
<polygon points="427.6,495.6 428.29,497.25 430.07,497.4 428.71,498.56 429.13,500.3 427.6,499.37 426.07,500.3 426.49,498.56 425.13,497.4 426.91,497.25" fill="#222"/>
<text x="513.6" y="499" font-size="11.5" font-weight="bold" text-anchor="start" fill="#111" color="#111">M</text>
<path d="M570.5 657.9 V533.6 H588.4 V657.9" fill="none" stroke="#111" stroke-width="1.6"/>
<path d="M598.9 657.9 V534.7 H616 V657.9" fill="none" stroke="#111" stroke-width="1.6"/>
<path d="M626.9 657.9 V532.7 H644.9 V657.9" fill="none" stroke="#111" stroke-width="1.6"/>
<path d="M655.4 657.9 V537.1 H673.4 V657.9" fill="none" stroke="#111" stroke-width="1.6"/>
<line x1="561.2" y1="503.5" x2="561.2" y2="658.7" stroke="#111" stroke-width="1.6" stroke-linecap="butt"/>
<line x1="556.2" y1="657.9" x2="683.8" y2="657.9" stroke="#111" stroke-width="1.6" stroke-linecap="butt"/>
<line x1="556.2" y1="657.9" x2="561.2" y2="657.9" stroke="#111" stroke-width="1.6" stroke-linecap="butt"/>
<text x="554.2" y="661.76" font-size="10.3" font-weight="bold" text-anchor="end" fill="#111" color="#111">0</text>
<line x1="556.2" y1="619.5" x2="561.2" y2="619.5" stroke="#111" stroke-width="1.6" stroke-linecap="butt"/>
<text x="554.2" y="623.36" font-size="10.3" font-weight="bold" text-anchor="end" fill="#111" color="#111">100</text>
<line x1="556.2" y1="581.1" x2="561.2" y2="581.1" stroke="#111" stroke-width="1.6" stroke-linecap="butt"/>
<text x="554.2" y="584.96" font-size="10.3" font-weight="bold" text-anchor="end" fill="#111" color="#111">200</text>
<line x1="556.2" y1="542.7" x2="561.2" y2="542.7" stroke="#111" stroke-width="1.6" stroke-linecap="butt"/>
<text x="554.2" y="546.56" font-size="10.3" font-weight="bold" text-anchor="end" fill="#111" color="#111">300</text>
<line x1="556.2" y1="504.3" x2="561.2" y2="504.3" stroke="#111" stroke-width="1.6" stroke-linecap="butt"/>
<text x="554.2" y="508.16" font-size="10.3" font-weight="bold" text-anchor="end" fill="#111" color="#111">400</text>
<line x1="579.5" y1="657.9" x2="579.5" y2="662.1" stroke="#111" stroke-width="1.6" stroke-linecap="butt"/>
<line x1="608.1" y1="657.9" x2="608.1" y2="662.1" stroke="#111" stroke-width="1.6" stroke-linecap="butt"/>
<line x1="636.1" y1="657.9" x2="636.1" y2="662.1" stroke="#111" stroke-width="1.6" stroke-linecap="butt"/>
<line x1="664.4" y1="657.9" x2="664.4" y2="662.1" stroke="#111" stroke-width="1.6" stroke-linecap="butt"/>
<line x1="579.45" y1="532.5" x2="579.45" y2="535.5" stroke="#111" stroke-width="1.4" stroke-linecap="butt"/>
<line x1="574.85" y1="532.5" x2="584.05" y2="532.5" stroke="#111" stroke-width="1.4" stroke-linecap="butt"/>
<line x1="574.85" y1="535.5" x2="584.05" y2="535.5" stroke="#111" stroke-width="1.4" stroke-linecap="butt"/>
<circle cx="572.3" cy="532" r="2.5" fill="none" stroke="#111" stroke-width="1.3"/>
<circle cx="572.3" cy="536.9" r="2.5" fill="none" stroke="#111" stroke-width="1.3"/>
<circle cx="579.2" cy="533" r="2.5" fill="#111" stroke="#111" stroke-width="1.3"/>
<circle cx="586.5" cy="528.1" r="2.5" fill="none" stroke="#111" stroke-width="1.3"/>
<circle cx="586.5" cy="534.3" r="2.5" fill="none" stroke="#111" stroke-width="1.3"/>
<line x1="607.45" y1="533.5" x2="607.45" y2="536" stroke="#111" stroke-width="1.4" stroke-linecap="butt"/>
<line x1="602.85" y1="533.5" x2="612.05" y2="533.5" stroke="#111" stroke-width="1.4" stroke-linecap="butt"/>
<line x1="602.85" y1="536" x2="612.05" y2="536" stroke="#111" stroke-width="1.4" stroke-linecap="butt"/>
<circle cx="600.5" cy="531.7" r="2.5" fill="none" stroke="#111" stroke-width="1.3"/>
<circle cx="600.5" cy="538" r="2.5" fill="none" stroke="#111" stroke-width="1.3"/>
<circle cx="607.5" cy="534.7" r="2.5" fill="#111" stroke="#111" stroke-width="1.3"/>
<circle cx="615" cy="530.4" r="2.5" fill="none" stroke="#111" stroke-width="1.3"/>
<circle cx="615" cy="536" r="2.5" fill="none" stroke="#111" stroke-width="1.3"/>
<line x1="635.9" y1="530.5" x2="635.9" y2="534.5" stroke="#111" stroke-width="1.4" stroke-linecap="butt"/>
<line x1="631.3" y1="530.5" x2="640.5" y2="530.5" stroke="#111" stroke-width="1.4" stroke-linecap="butt"/>
<line x1="631.3" y1="534.5" x2="640.5" y2="534.5" stroke="#111" stroke-width="1.4" stroke-linecap="butt"/>
<circle cx="632.4" cy="527.7" r="2.5" fill="none" stroke="#111" stroke-width="1.3"/>
<circle cx="639.7" cy="528.5" r="2.5" fill="none" stroke="#111" stroke-width="1.3"/>
<circle cx="636" cy="532.1" r="2.5" fill="#111" stroke="#111" stroke-width="1.3"/>
<circle cx="628.9" cy="535.4" r="2.5" fill="none" stroke="#111" stroke-width="1.3"/>
<circle cx="643.3" cy="534.7" r="2.5" fill="none" stroke="#111" stroke-width="1.3"/>
<line x1="664.4" y1="535" x2="664.4" y2="539" stroke="#111" stroke-width="1.4" stroke-linecap="butt"/>
<line x1="659.8" y1="535" x2="669" y2="535" stroke="#111" stroke-width="1.4" stroke-linecap="butt"/>
<line x1="659.8" y1="539" x2="669" y2="539" stroke="#111" stroke-width="1.4" stroke-linecap="butt"/>
<circle cx="657.4" cy="532.1" r="2.5" fill="none" stroke="#111" stroke-width="1.3"/>
<circle cx="666.6" cy="534" r="2.5" fill="none" stroke="#111" stroke-width="1.3"/>
<circle cx="671.9" cy="536.7" r="2.5" fill="none" stroke="#111" stroke-width="1.3"/>
<circle cx="660.7" cy="536" r="2.5" fill="none" stroke="#111" stroke-width="1.3"/>
<circle cx="664.2" cy="541.9" r="2.5" fill="none" stroke="#111" stroke-width="1.3"/>
<text x="582.7" y="673.2" font-size="10.7" font-weight="bold" text-anchor="end" fill="#111" color="#111" transform="rotate(-45 582.7 673.2)">Control-recent</text>
<text x="611.3" y="673.2" font-size="10.7" font-weight="bold" text-anchor="end" fill="#111" color="#111" transform="rotate(-45 611.3 673.2)">Fear-recent</text>
<text x="639.3" y="673.2" font-size="10.7" font-weight="bold" text-anchor="end" fill="#111" color="#111" transform="rotate(-45 639.3 673.2)">Contro-remote</text>
<text x="667.6" y="673.2" font-size="10.7" font-weight="bold" text-anchor="end" fill="#111" color="#111" transform="rotate(-45 667.6 673.2)">Fear-remote</text>
<text x="530.3" y="581.1" font-size="10.6" font-weight="bold" text-anchor="middle" fill="#111" color="#111" transform="rotate(-90 530.3 581.1)">No. of PV<tspan font-size="7.4" dy="-4.3">+</tspan><tspan dy="4.3"> neurons</tspan></text>
</svg>
</body></html>
